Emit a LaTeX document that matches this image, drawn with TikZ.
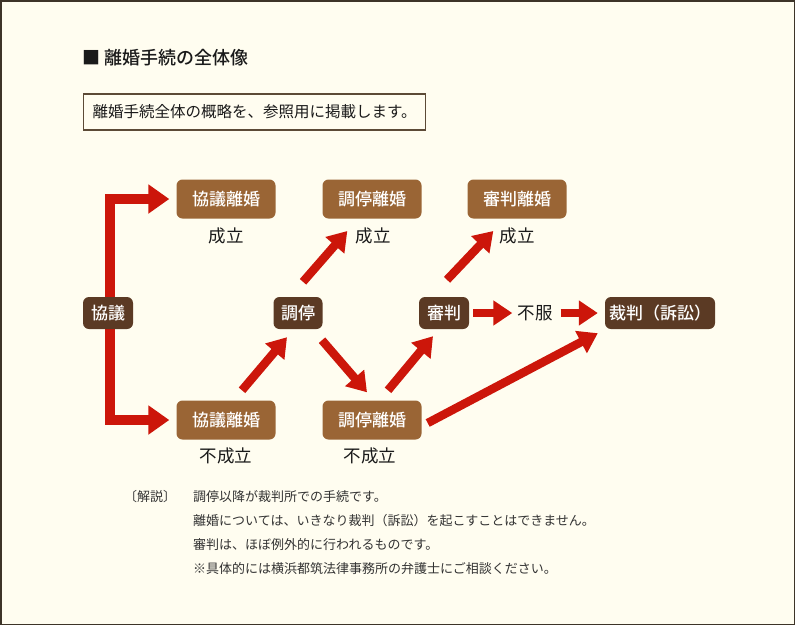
\documentclass[tikz,border=0pt]{standalone}
\usepackage{fontspec}
\setmainfont{Noto Sans CJK JP}[BoldFont={Noto Sans CJK JP Bold}]
\newfontfamily\medfont{Noto Sans CJK JP Medium}
\usetikzlibrary{arrows.meta,calc}
\definecolor{bgc}{HTML}{FFFDF0}
\definecolor{framec}{HTML}{3D3428}
\definecolor{boxline}{HTML}{5C4A36}
\definecolor{lightb}{HTML}{9A6535}
\definecolor{darkb}{HTML}{5B3A24}
\definecolor{arrc}{HTML}{CC160A}
\definecolor{txtc}{HTML}{1A1A1A}
\definecolor{notec}{HTML}{333333}
\pgfdeclarelayer{bglayer}
\pgfdeclarelayer{arrlayer}
\pgfsetlayers{bglayer,arrlayer,main}
\tikzset{
  lightbox/.style={fill=lightb, text=white, rounded corners=6pt, minimum width=99pt,
    minimum height=39pt, inner sep=0pt, font=\fontsize{17}{20}\selectfont\medfont},
  darkbox/.style={fill=darkb, text=white, rounded corners=6pt, minimum height=32pt,
    inner sep=0pt, font=\fontsize{17}{20}\selectfont\medfont},
  lbl/.style={text=txtc, inner sep=0pt, font=\fontsize{17.5}{20}\selectfont},
  notetext/.style={text=notec, anchor=west, inner sep=0pt, font=\fontsize{13}{15}\selectfont},
  fatarrow/.style={line width=8.5pt, draw=arrc, line join=miter,
    -{Triangle[length=19pt,width=24pt]}},
  elbowarrow/.style={line width=10pt, draw=arrc, line join=miter,
    -{Triangle[length=21pt,width=28pt]}},
}
\begin{document}
\begin{tikzpicture}[x=1pt,y=-1pt]
\useasboundingbox (0,0) rectangle (795,625);
\begin{pgfonlayer}{bglayer}
  \fill[framec] (0,0) rectangle (795,625);
  \fill[bgc] (1.5,1.5) rectangle (793.5,623.5);
\end{pgfonlayer}

% title and intro
\node[anchor=west, inner sep=0pt, text=txtc, font=\fontsize{18}{20}\selectfont\medfont]
  (title) at (82,58) {■ 離婚手続の全体像};
\node[draw=boxline, line width=1.3pt, anchor=west, minimum width=342pt, minimum height=36pt,
  inner sep=0pt, text=txtc, font=\fontsize{15.5}{18}\selectfont]
  (intro) at (83,112) {離婚手続全体の概略を、参照用に掲載します。};

% nodes
\node[darkbox, minimum width=50pt] (kyogi) at (108,313) {協議};
\node[darkbox, minimum width=49pt] (chotei) at (298,313) {調停};
\node[darkbox, minimum width=50pt] (shinpan) at (444,313) {審判};
\node[lbl] (fufuku) at (535,313) {不服};
\node[darkbox, minimum width=110pt] (saiban) at (660,313) {裁判（訴訟）};

\node[lightbox] (kt) at (226,199) {協議離婚};
\node[lightbox] (ct) at (372,199) {調停離婚};
\node[lightbox] (st) at (517,199) {審判離婚};
\node[lbl] (s1) at (226,236) {成立};
\node[lbl] (s2) at (373,236) {成立};
\node[lbl] (s3) at (517,236) {成立};

\node[lightbox] (kb) at (226,420) {協議離婚};
\node[lightbox] (cb) at (372,420) {調停離婚};
\node[lbl] (f1) at (226,456) {不成立};
\node[lbl] (f2) at (370,456) {不成立};

% notes
\node[notetext] (n0) at (124,497) {〔解説〕};
\node[notetext] (n1) at (193,497) {調停以降が裁判所での手続です。};
\node[notetext] (n2) at (193,521) {離婚については、いきなり裁判（訴訟）を起こすことはできません。};
\node[notetext] (n3) at (193,545) {審判は、ほぼ例外的に行われるものです。};
\node[notetext] (n4) at (193,569) {※具体的には横浜都筑法律事務所の弁護士にご相談ください。};

% arrows
\begin{pgfonlayer}{arrlayer}
  \draw[elbowarrow, shorten >=7pt] ($(kyogi.center)+(2,0)$) |- (kt.west);
  \draw[elbowarrow, shorten >=7pt] ($(kyogi.center)+(2,0)$) |- (kb.west);
  \draw[fatarrow] ($(chotei.north)+(5,-15)$) -- ($(s2.west)+(-8,-5)$);
  \draw[fatarrow] ($(shinpan.north)+(3,-17)$) -- ($(s3.west)+(-6,-5)$);
  \draw[fatarrow] ($(kb.north)+(16,-10)$) -- ($(chotei.south)+(-11,8)$);
  \draw[fatarrow] ($(chotei.south)+(24,11)$) -- ($(cb.north)+(-5,-8)$);
  \draw[fatarrow] ($(cb.north)+(16,-10)$) -- ($(shinpan.south)+(-11,7)$);
  \draw[fatarrow] ($(cb.east)+(6,3)$) -- ($(saiban.south west)+(-7,4)$);
  \draw[fatarrow, shorten <=4pt, shorten >=5pt] (shinpan.east) -- (fufuku.west);
  \draw[fatarrow, shorten <=8pt, shorten >=7pt] (fufuku.east) -- (saiban.west);
\end{pgfonlayer}
\end{tikzpicture}
\end{document}
